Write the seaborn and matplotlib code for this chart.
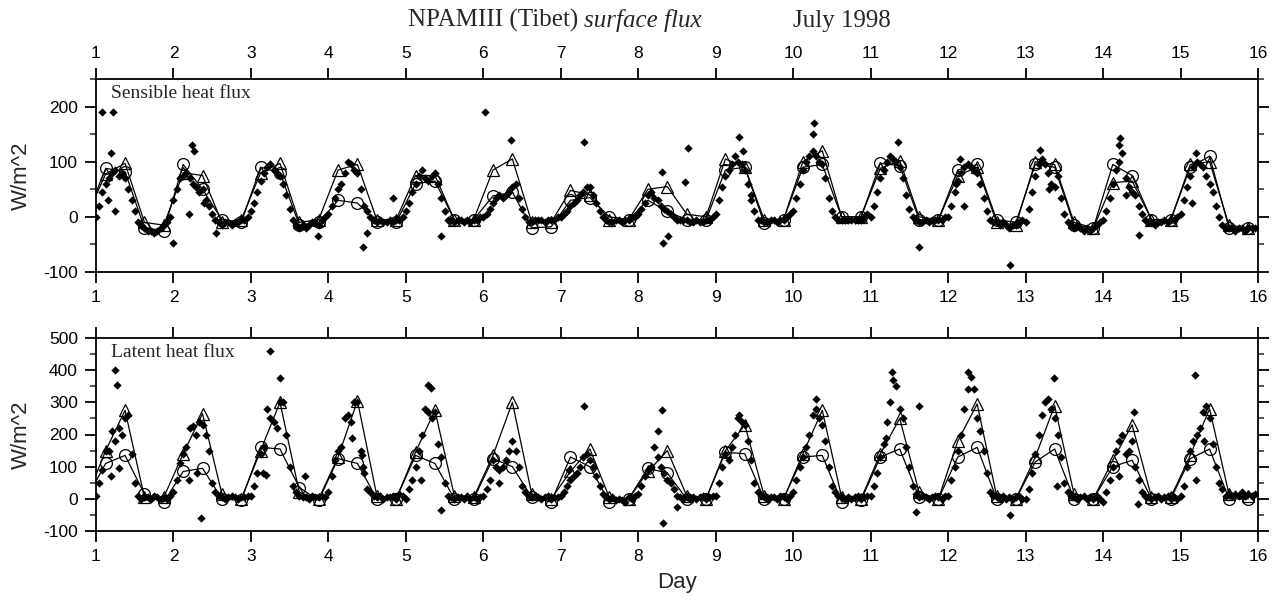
import numpy as np
import pandas as pd
import seaborn as sns
import matplotlib
matplotlib.use("Agg")
from matplotlib import pyplot as plt
from matplotlib.ticker import MultipleLocator

# ---- model output, 6-hourly: d+0.125, d+0.375, d+0.625, d+0.875 ----
days = list(range(1, 16))
model_offsets = [0.125, 0.375, 0.625, 0.875]
model_start_time = 0.875

# sensible heat flux, model (circles / triangles), 4 values per day
sh_circle = [88, 82, -20, -25,   95, 50, -5, -10,   90, 80, -15, -10,   30, 25, -10, -10,
             60, 65, -5, -5,     38, 45, -20, -18,  30, 35, 0, -5,      30, 10, -5, -5,
             85, 90, -12, -5,    90, 95, 0, 0,      97, 93, -5, -5,     85, 95, -5, -10,
             95, 90, -15, -20,   95, 75, -5, -5,    90, 110, -20, -20]
sh_triangle = [78, 97, -10, -15,  80, 75, -10, -5,   80, 97, -10, -5,    85, 95, -5, -5,
               75, 75, -5, -5,    85, 105, -10, -10, 48, 40, -5, -5,     50, 55, 5, 0,
               105, 90, -5, -5,   100, 120, 0, 0,    88, 102, 0, -5,     75, 90, -10, -15,
               100, 95, -10, -20, 62, 65, -5, -5,    95, 100, -15, -20]
sh_start = [0, 0]

# latent heat flux, model
lh_circle = [110, 135, 15, -10,  85, 95, 0, -5,     160, 155, 35, -5,   125, 110, 0, 0,
             135, 110, 0, 0,     125, 100, 5, -10,  130, 100, -10, 0,   95, 80, 0, 0,
             145, 140, 0, 0,     130, 135, -10, -5, 130, 155, 5, 0,     130, 160, 0, 0,
             115, 155, 0, 0,     100, 120, 0, 0,    125, 155, 0, 0]
lh_triangle = [150, 275, 5, 5,    140, 265, 15, 0,   150, 300, 20, 0,    130, 305, 10, 0,
               145, 275, 10, 5,   135, 300, 15, 0,   85, 155, 5, 0,      85, 150, 10, 0,
               150, 230, 10, 0,   140, 275, 5, 0,    140, 250, 20, 0,    180, 295, 10, 0,
               130, 290, 15, 0,   120, 230, 5, 5,    135, 280, 15, 10]
lh_start = [0, 0]

# ---- observations, hourly (d + h/24) ----
sh_obs = [
    [0, 20, 45, 60, 70, 80, 85, 75, 80, 70, 50, 30, 10, -10, -15, -20, -25, -25, -30, -25, -20, -15, -10, 0],
    [30, 50, 70, 75, 80, 70, 60, 55, 45, 50, 30, 20, 5, -5, -10, -15, -10, -10, -15, -10, -10, -5, -5, 0],
    [10, 25, 45, 65, 80, 90, 95, 85, 80, 75, 60, 40, 15, -5, -15, -20, -15, -20, -15, -10, -10, -15, -5, 0],
    [5, 20, 35, 50, 60, 80, 100, 95, 85, 80, 50, 20, 10, 0, -5, -10, -5, -10, -10, -5, -10, -5, -5, 0],
    [10, 25, 45, 60, 75, 85, 70, 65, 75, 80, 60, 35, 10, -5, -5, -10, -5, -5, -10, -5, -10, -5, -5, 0],
    [0, 5, 15, 25, 35, 40, 35, 40, 45, 55, 60, 35, 15, 0, -10, -10, -5, -5, -5, -10, -5, -5, -5, 0],
    [0, 5, 10, 20, 25, 30, 40, 45, 55, 55, 40, 25, 10, 0, -5, -10, -10, -5, -5, -10, -5, -5, 0, 0],
    [5, 15, 25, 40, 45, 35, 30, 20, 15, 10, 5, 0, -5, -5, -5, -5, -10, -10, -5, -10, -10, -5, -5, 0],
    [5, 30, 55, 75, 85, 95, 110, 100, 95, 85, 60, 30, 10, -5, -5, -10, -10, -5, -5, -10, -5, -5, 0, 5],
    [10, 35, 60, 85, 100, 110, 120, 110, 100, 95, 70, 35, 10, 0, -5, -5, -5, -5, -5, -5, -5, -5, 0, 5],
    [0, 20, 45, 70, 85, 100, 110, 105, 100, 90, 70, 40, 15, 0, -5, -10, -10, -5, -10, -5, -5, -5, -5, 0],
    [0, 20, 45, 65, 80, 90, 95, 90, 85, 80, 60, 35, 10, -5, -10, -10, -15, -10, -15, -20, -15, -15, -10, -5],
    [-10, 15, 45, 75, 95, 105, 95, 80, 60, 55, 75, 35, 5, -10, -15, -20, -15, -20, -25, -20, -25, -20, -15, -10],
    [-5, 10, 35, 60, 85, 100, 115, 70, 55, 45, 40, 20, 5, -5, -10, -10, -15, -10, -10, -5, -10, -5, -5, 0],
    [5, 30, 55, 75, 90, 100, 95, 90, 75, 60, 45, 20, 0, -15, -20, -20, -20, -25, -20, -20, -25, -20, -20, -20],
]
sh_extra_t = [1.08, 1.22, 1.20, 1.25, 1.15, 2.00, 2.24, 2.26, 2.20, 2.40, 2.55, 3.87, 4.45, 4.50,
              4.83, 5.45, 6.02, 6.36, 7.30, 8.30, 8.64, 8.60, 8.32, 8.38, 9.30, 9.35, 9.45, 10.27,
              10.25, 11.35, 11.63, 12.10, 12.15, 12.20, 12.80, 13.19, 13.30, 14.22, 14.20, 14.46,
              14.30, 15.20, 15.15]
sh_extra_v = [190, 190, 115, 10, 30, -48, 130, 120, 5, 25, -30, -35, -55, -30,
              35, -35, 190, 140, 135, 82, 124, 64, -48, -35, 145, 120, 40, 170,
              150, 135, -54, 60, 105, 19, -87, 121, 50, 143, 130, -32,
              40, 115, 25]

lh_obs = [
    [10, 50, 90, 150, 150, 210, 180, 220, 200, 250, 260, 140, 50, 10, 0, 5, 5, 0, 10, 5, 0, 5, 0, 10],
    [20, 60, 110, 140, 160, 220, 225, 200, 240, 230, 200, 150, 50, 20, 10, 5, 0, 5, 10, 5, 0, 5, 5, 10],
    [10, 40, 80, 140, 160, 280, 250, 240, 220, 300, 300, 200, 100, 40, 20, 10, 5, 5, 0, 10, 5, 5, 10, 5],
    [20, 70, 120, 150, 160, 250, 260, 240, 300, 300, 150, 80, 30, 20, 10, 5, 10, 0, 5, 5, 10, 0, 15, 10],
    [0, 30, 60, 100, 150, 200, 280, 270, 250, 270, 170, 130, 50, 10, 5, 0, 5, 5, 0, 10, 0, 5, 0, 5],
    [10, 30, 60, 120, 100, 90, 100, 120, 150, 180, 150, 100, 40, 20, 10, 5, 10, 5, 0, 5, 10, 0, 5, 5],
    [10, 20, 40, 60, 70, 80, 100, 130, 140, 120, 100, 70, 40, 15, 5, 0, 5, -5, 0, -5, -10, 5, 0, 10],
    [15, 40, 70, 90, 100, 160, 130, 100, 80, 60, 50, 30, 10, 5, 0, 5, 0, 5, 0, 5, 10, 0, 5, 10],
    [10, 50, 100, 140, 120, 160, 200, 250, 240, 230, 180, 120, 50, 20, 10, 5, 0, 5, 5, 0, 10, 5, 0, 10],
    [20, 60, 100, 130, 160, 200, 260, 280, 250, 230, 180, 100, 40, 20, 10, 5, 0, 5, 0, 5, 10, 0, 5, 10],
    [10, 40, 80, 130, 170, 240, 300, 370, 350, 280, 250, 160, 100, 40, 15, 5, 10, 5, 0, 5, 10, 5, 0, 10],
    [10, 60, 100, 150, 200, 280, 340, 380, 340, 250, 210, 150, 80, 20, 10, 5, 0, 10, 0, 5, 0, 5, 10, 0],
    [0, 30, 80, 140, 200, 260, 300, 310, 280, 250, 200, 130, 50, 20, 10, 5, 0, 5, 10, 0, 5, 0, 10, 0],
    [-10, 20, 60, 100, 150, 180, 200, 140, 150, 180, 100, 60, 20, 10, 5, 0, 5, 10, 0, 5, 10, 0, 5, 0],
    [10, 40, 100, 150, 180, 200, 220, 270, 290, 250, 170, 100, 50, 30, 10, 15, 10, 15, 10, 20, 10, 15, 10, 15],
]
lh_extra_t = [1.25, 1.27, 1.30, 1.20, 2.20, 2.35, 2.30, 3.25, 3.38, 3.15, 3.20, 3.70, 4.43, 4.45,
              4.30, 5.28, 5.32, 5.45, 5.20, 6.20, 7.30, 7.10, 8.30, 8.32, 8.50, 8.25, 9.30, 10.30,
              11.27, 11.62, 11.58, 11.20, 12.25, 12.80, 13.37, 13.40, 14.40, 14.45, 14.20, 15.19,
              15.20, 15.30]
lh_extra_v = [400, 355, 95, 70, 60, -60, 80, 460, 375, 80, 75, 70, 135, 100,
              190, 355, 345, -35, 60, 50, 290, 90, 275, -75, -25, 210, 260, 310,
              395, 290, -40, 190, 395, -50, 375, 40, 270, -15, 70, 385,
              60, 180]

# ---- assemble tables ----
model_time = [model_start_time] + [d + o for d in days for o in model_offsets]
obs_time = [d + h / 24 for d in days for h in range(24)]


def model_frame(start, circle, triangle):
    return pd.DataFrame({"time": model_time,
                         "circle": [start[0]] + circle,
                         "triangle": [start[1]] + triangle})


def obs_frame(obs, extra_t, extra_v):
    vals = [v for day in obs for v in day]
    return pd.DataFrame({"time": obs_time + extra_t, "flux": vals + extra_v})


panels = [
    ("Sensible heat flux", model_frame(sh_start, sh_circle, sh_triangle),
     obs_frame(sh_obs, sh_extra_t, sh_extra_v), (-100, 250), [-100, 0, 100, 200]),
    ("Latent heat flux", model_frame(lh_start, lh_circle, lh_triangle),
     obs_frame(lh_obs, lh_extra_t, lh_extra_v), (-100, 500), [-100, 0, 100, 200, 300, 400, 500]),
]

sns.set_style("white")
plt.rcParams["font.family"] = ["Liberation Sans", "DejaVu Sans"]
plt.rcParams["axes.unicode_minus"] = False
serif = ["Liberation Serif", "DejaVu Serif"]

fig = plt.figure(figsize=(12.8, 6.01), dpi=100)
W, H = 1280, 601
boxes = [(96, 79, 1258, 272), (96, 338, 1258, 531)]

for i, (label, mdf, odf, ylim, yticks) in enumerate(panels):
    x0, y0, x1, y1 = boxes[i]
    ax = fig.add_axes([x0 / W, 1 - y1 / H, (x1 - x0) / W, (y1 - y0) / H])

    sns.lineplot(data=mdf, x="time", y="circle", ax=ax, color="black", lw=0.9,
                 marker="o", markersize=8.5, markerfacecolor="none",
                 markeredgecolor="black", markeredgewidth=0.9, sort=False, estimator=None)
    sns.lineplot(data=mdf, x="time", y="triangle", ax=ax, color="black", lw=0.9,
                 marker="^", markersize=9, markerfacecolor="none",
                 markeredgecolor="black", markeredgewidth=0.9, sort=False, estimator=None)
    sns.scatterplot(data=odf, x="time", y="flux", ax=ax, color="black", marker="D",
                    s=18, linewidth=0, zorder=3)

    ax.set_xlim(1, 16)
    ax.set_ylim(*ylim)
    ax.set_xticks(range(1, 17))
    ax.set_yticks(yticks)
    ax.yaxis.set_minor_locator(MultipleLocator(50))
    ax.set_ylabel("W/m^2", fontsize=16, labelpad=8)
    ax.set_xlabel("")
    for s in ax.spines.values():
        s.set_linewidth(1.3)
        s.set_color("black")
    ax.tick_params(axis="both", which="major", direction="out", length=8, width=1.3,
                   labelsize=12.5, pad=5, colors="black")
    ax.tick_params(axis="y", which="minor", direction="out", length=4, width=1.1)
    ax.tick_params(axis="y", which="both", left=True, right=True, labelleft=True, labelright=False)
    ax.tick_params(axis="x", which="major", top=True, bottom=True,
                   labeltop=(i == 0), labelbottom=True)
    ax.text(0.013, 0.97, label, transform=ax.transAxes, ha="left", va="top",
            fontsize=14, family=serif)
    if i == 1:
        ax.set_xlabel("Day", fontsize=16, labelpad=6)

t1 = fig.text(408 / W, 1 - 27 / H, "NPAMIII (Tibet)", fontsize=18, ha="left",
              va="baseline", family=serif)
fig.canvas.draw()
bb = t1.get_window_extent()
fig.text((bb.x1 + 6) / W, 1 - 27 / H, "surface flux", fontsize=18, ha="left",
         va="baseline", style="italic", family=serif)
fig.text(842 / W, 1 - 27 / H, "July 1998", fontsize=18, ha="center", va="baseline",
         family=serif)

fig.savefig("out.png", dpi=100)
